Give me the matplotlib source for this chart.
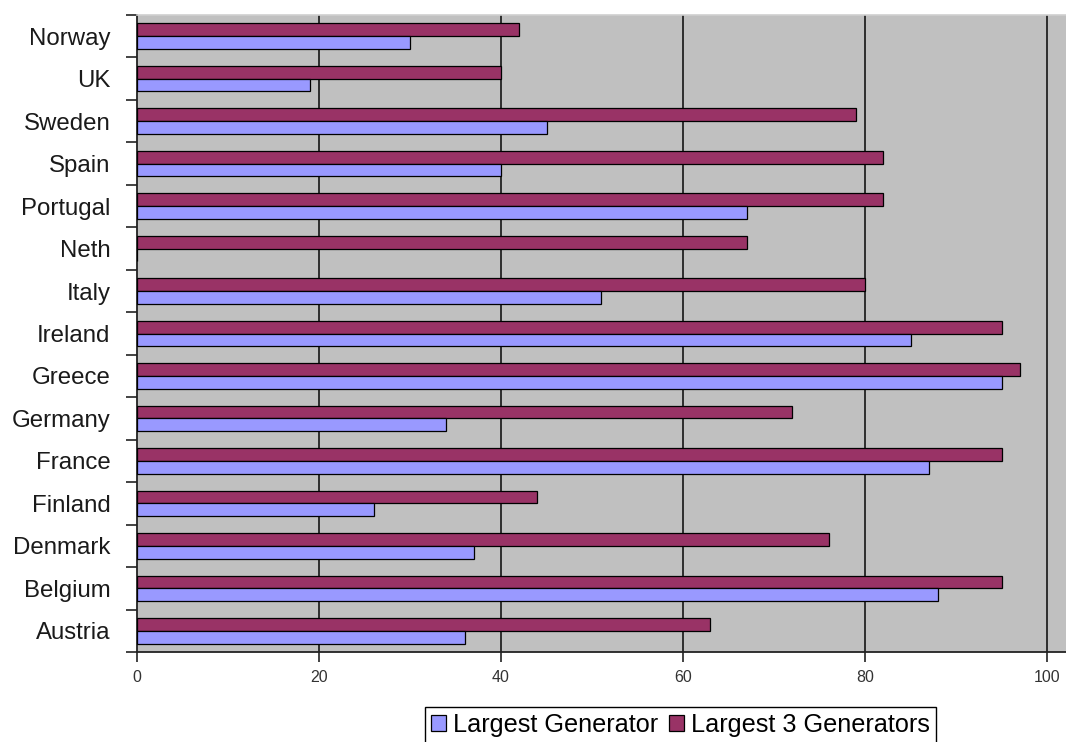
import numpy as np
import matplotlib
matplotlib.use('Agg')
import matplotlib.pyplot as plt
from matplotlib.ticker import FixedLocator

plt.rcParams['font.family'] = ['Liberation Sans', 'DejaVu Sans']

# listed from top of the chart to bottom
countries = ['Norway', 'UK', 'Sweden', 'Spain', 'Portugal', 'Neth', 'Italy',
             'Ireland', 'Greece', 'Germany', 'France', 'Finland', 'Denmark',
             'Belgium', 'Austria']
largest_1 = [30, 19, 45, 40, 67, 0, 51, 85, 95, 34, 87, 26, 37, 88, 36]
largest_3 = [42, 40, 79, 82, 82, 67, 80, 95, 97, 72, 95, 44, 76, 95, 63]
xticks = [0, 20, 40, 60, 80, 100]

BLUE = '#9999FF'
PURPLE = '#993366'
BG = '#C0C0C0'

fig = plt.figure(figsize=(10.66, 7.42), dpi=100)
ax = fig.add_axes([137 / 1066, 1 - 652 / 742, 1 - 137 / 1066, (652 - 15) / 742])
ax.set_facecolor(BG)

y = np.arange(len(countries))
h = 0.3
ax.barh(y - h / 2, largest_3, height=h, color=PURPLE, edgecolor='black',
        linewidth=0.9, label='Largest 3 Generators', zorder=3)
ax.barh(y + h / 2, largest_1, height=h, color=BLUE, edgecolor='black',
        linewidth=0.9, label='Largest Generator', zorder=3)

ax.set_xlim(0, (1066 - 137) / 9.1)
ax.set_ylim(len(countries) - 0.5, -0.5)

# vertical gridlines
for v in xticks[1:]:
    ax.axvline(v, color='#222222', linewidth=1.3, zorder=1)

ax.set_xticks(xticks)
ax.tick_params(axis='x', direction='out', length=7, width=1.2, color='#222222',
               labelsize=11.5, labelcolor='#333333', pad=6)

ax.set_yticks(y)
ax.set_yticklabels(countries)
ax.yaxis.set_minor_locator(FixedLocator(np.arange(-0.5, len(countries), 1.0)))
ax.tick_params(axis='y', which='major', length=0, labelsize=17.3, pad=19,
               labelcolor='#1a1a1a')
ax.tick_params(axis='y', which='minor', direction='out', length=8, width=1.2,
               color='#222222')

for side in ['left', 'bottom']:
    ax.spines[side].set_color('#222222')
    ax.spines[side].set_linewidth(1.3)
ax.spines['right'].set_visible(False)
ax.spines['top'].set_color('#cfcfcf')
ax.spines['top'].set_linewidth(1.2)

handles, labels = ax.get_legend_handles_labels()
leg = fig.legend(handles[::-1], labels[::-1], loc='upper left',
                 bbox_to_anchor=(425 / 1066, 1 - 707 / 742), ncol=2,
                 fontsize=18.2, frameon=True, fancybox=False, framealpha=1,
                 edgecolor='black', handlelength=0.6, handleheight=0.6,
                 handletextpad=0.25, columnspacing=0.45, borderpad=0.25,
                 borderaxespad=0)
leg.get_frame().set_linewidth(1.0)

fig.savefig('out.png', dpi=100)
